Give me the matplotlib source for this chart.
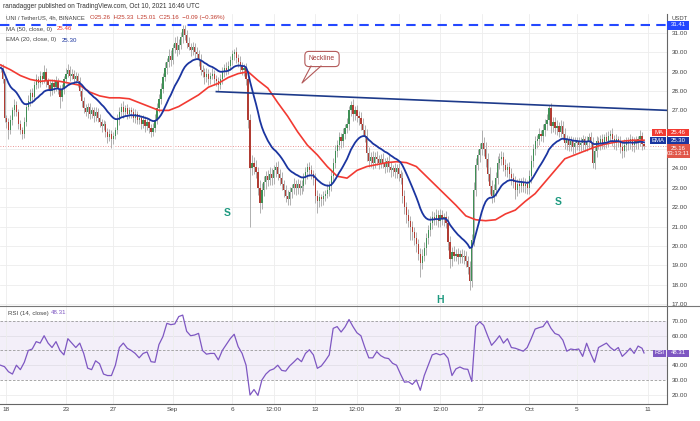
import numpy as np
import pandas as pd
import matplotlib
matplotlib.use("Agg")
import matplotlib.pyplot as plt
from matplotlib.patches import Rectangle
from matplotlib.lines import Line2D

plt.rcParams['font.family'] = ['Liberation Sans', 'DejaVu Sans']

# UNI/USDT 4h candles, first candle Aug 17 12:00 UTC
start = pd.Timestamp('2021-08-17 12:00')
first_open = 29.25
closes = [
    29.2, 28.6, 26.6, 26.4, 26.0, 26.5, 27.0, 27.3, 26.9, 26.3,
    26.0, 25.8, 26.4, 27.2, 27.5, 27.9, 27.7, 28.3, 28.6, 28.4,
    28.8, 28.6, 29.0, 28.5, 28.3, 28.0, 28.4, 28.2, 28.5, 28.1,
    27.7, 28.1, 28.6, 28.9, 29.1, 28.8, 28.9, 28.6, 28.8, 28.5,
    28.0, 27.5, 27.1, 26.9, 27.2, 26.8, 27.0, 26.7, 26.9, 26.6,
    26.4, 26.2, 26.3, 25.9, 25.6, 25.8, 25.5, 25.7, 26.0, 26.5,
    26.9, 27.2, 26.9, 27.1, 26.8, 27.0, 26.9, 26.6, 26.8, 26.5,
    26.6, 26.3, 26.5, 26.2, 26.4, 26.1, 25.9, 26.1, 26.5, 27.1,
    27.6, 28.1, 28.7, 29.2, 29.5, 29.8, 29.6, 30.2, 30.5, 30.1,
    30.4, 30.8, 31.2, 30.9, 30.5, 30.3, 30.1, 30.3, 30.0, 29.9,
    29.6, 29.1, 29.0, 28.7, 28.9, 28.6, 28.8, 28.9, 28.6, 28.5,
    28.3, 28.6, 29.0, 29.2, 29.1, 29.3, 29.6, 29.9, 30.0, 29.7,
    29.5, 29.3, 29.1, 29.2, 28.6, 26.5, 24.0, 24.3, 24.1, 23.8,
    23.0, 22.2, 22.9, 23.3, 23.6, 23.4, 23.7, 23.5, 23.9, 24.1,
    23.7, 23.5, 23.2, 22.9, 22.6, 22.4, 22.8, 23.0, 23.2, 23.0,
    23.2, 23.0, 23.1, 23.5, 23.8, 24.1, 23.9, 23.7, 23.5, 22.6,
    22.3, 22.5, 22.4, 22.6, 22.7, 22.9, 23.1, 23.6, 24.3, 24.9,
    25.2, 25.6, 25.4, 25.8, 26.1, 26.3, 27.0, 27.3, 26.8, 27.0,
    26.7, 26.6, 26.3, 26.0, 25.7, 24.8, 24.4, 24.6, 24.3, 24.6,
    24.5, 24.3, 24.5, 24.3, 24.1, 24.4, 24.1, 23.9, 24.0, 23.8,
    24.0, 23.7, 23.5, 22.6, 22.0, 21.6, 21.3, 21.0, 20.7, 20.4,
    20.1, 19.6, 19.1, 19.5, 19.9, 20.4, 20.8, 21.2, 21.5, 21.4,
    21.6, 21.3, 21.6, 21.4, 21.5, 21.2, 20.2, 19.3, 19.7, 19.5,
    19.6, 19.4, 19.6, 19.4, 19.5, 19.2, 18.9, 18.2, 20.3, 22.9,
    24.2, 24.7, 25.0, 25.3, 25.0, 24.5, 23.7, 23.1, 22.6, 22.9,
    23.5, 24.3, 24.5, 24.6, 24.2, 23.9, 24.1, 23.7, 23.5, 23.3,
    22.9, 23.2, 23.1, 23.3, 23.1, 23.2, 23.0, 23.6, 24.4, 25.0,
    25.4, 25.5, 25.8, 25.7, 26.0, 26.3, 26.5, 27.1, 26.2, 26.4,
    26.1, 26.2, 25.9, 26.2, 25.8, 25.3, 25.5, 25.2, 25.4, 25.1,
    25.3, 25.4, 25.2, 25.3, 25.5, 25.2, 25.4, 25.6, 25.3, 24.3,
    24.9, 25.4, 25.3, 25.5, 25.3, 25.6, 25.4, 25.7, 25.8, 25.5,
    25.3, 25.5, 25.4, 25.1, 24.9, 25.2, 25.4, 25.3, 25.5, 25.2,
    25.4, 25.3, 25.5, 25.7, 25.26, 25.16,
]
upper_wick = [
    .15, .2, .2, .15, .2, .25, .2, .3, .2, .15,
    .2, .15, .25, .2, .3, .2, .25, .2, .3, .2,
    .25, .2, .35, .2, .15, .25, .2, .2, .3, .15,
    .2, .25, .2, .3, .3, .2, .25, .2, .2, .15,
    .2, .15, .2, .25, .2, .2, .15, .2, .25, .2,
    .2, .15, .2, .15, .2, .25, .2, .2, .15, .3,
    .25, .2, .3, .2, .25, .15, .2, .2, .25, .15,
    .2, .15, .25, .2, .2, .15, .2, .25, .3, .3,
    .25, .3, .25, .3, .2, .35, .3, .25, .3, .35,
    .3, .25, .21, .2, .25, .3, .2, .25, .2, .3,
    .2, .3, .25, .2, .3, .25, .2, .3, .2, .25,
    .2, .3, .25, .2, .3, .25, .2, .2, .15, .25,
    .2, .3, .2, .2, .25, .3, .3, .4, .3, .35,
    .3, .4, .35, .3, .25, .3, .35, .3, .3, .25,
    .3, .25, .3, .2, .25, .3, .25, .2, .3, .2,
    .25, .2, .3, .25, .3, .2, .25, .3, .2, .25,
    .3, .25, .2, .25, .2, .3, .25, .3, .25, .3,
    .25, .3, .25, .3, .2, .3, .25, .2, .3, .25,
    .3, .25, .3, .3, .25, .35, .3, .25, .3, .25,
    .3, .2, .25, .3, .25, .2, .3, .25, .2, .3,
    .25, .3, .2, .3, .3, .25, .3, .25, .3, .25,
    .3, .25, .3, .35, .3, .25, .3, .35, .3, .25,
    .3, .25, .3, .25, .2, .3, .35, .3, .25, .3,
    .25, .3, .2, .25, .3, .25, .3, .3, .3, .4,
    .35, .3, .3, .7, .3, .35, .3, .35, .3, .3,
    .3, .35, .3, .3, .25, .3, .2, .25, .3, .25,
    .3, .25, .3, .2, .25, .3, .2, .3, .3, .25,
    .3, .25, .3, .2, .3, .25, .3, .2, .3, .25,
    .25, .3, .2, .3, .25, .3, .25, .2, .3, .25,
    .3, .25, .2, .3, .25, .2, .3, .25, .3, .3,
    .25, .3, .2, .25, .3, .2, .3, .25, .2, .3,
    .25, .3, .2, .3, .25, .3, .2, .25, .3, .2,
    .25, .3, .2, .3, .2, .07,
]
lower_wick = [
    .2, .2, .2, .3, .5, .2, .25, .3, .2, .25,
    .2, .3, .25, .2, .2, .25, .3, .2, .2, .25,
    .2, .25, .2, .3, .2, .25, .2, .3, .2, .25,
    .6, .2, .25, .2, .2, .3, .2, .25, .2, .3,
    .25, .3, .25, .2, .3, .25, .2, .3, .25, .2,
    .25, .3, .2, .25, .3, .2, .45, .25, .2, .2,
    .25, .2, .3, .2, .25, .2, .3, .2, .25, .2,
    .2, .25, .2, .3, .2, .25, .3, .2, .2, .2,
    .2, .25, .2, .2, .3, .25, .3, .2, .25, .3,
    .2, .25, .3, .25, .3, .2, .3, .25, .3, .25,
    .3, .25, .3, .35, .25, .3, .25, .2, .3, .25,
    .3, .2, .25, .3, .25, .2, .2, .25, .3, .25,
    .25, .3, .25, .3, .3, .4, 3.0, .35, .4, .3,
    .35, .5, .3, .3, .35, .3, .25, .35, .3, .35,
    .3, .35, .3, .4, .35, .3, .3, .35, .3, .35,
    .3, .35, .3, .25, .3, .35, .3, .25, .35, .4,
    .6, .3, .35, .3, .3, .25, .3, .25, .3, .3,
    .3, .25, .35, .3, .3, .25, .3, .3, .35, .3,
    .3, .35, .3, .3, .35, .4, .35, .3, .35, .3,
    .3, .35, .3, .3, .35, .3, .3, .35, .3, .3,
    .3, .35, .3, .4, .35, .4, .35, .7, .4, .35,
    .4, .35, .7, .3, .3, .35, .3, .3, .35, .3,
    .3, .35, .3, .3, .35, .3, .4, .45, .35, .3,
    .3, .35, .3, .3, .35, .3, .35, .5, .3, .3,
    .3, .3, .35, .3, .35, .4, .35, .4, .4, .35,
    .3, .3, .35, .3, .35, .3, .35, .3, .35, .3,
    .5, .3, .35, .3, .3, .35, .3, .3, .35, .3,
    .3, .35, .3, .3, .35, .3, .3, .25, .35, .3,
    .3, .35, .3, .3, .35, .3, .35, .3, .3, .35,
    .3, .35, .3, .3, .35, .3, .3, .35, .3, .3,
    .35, .3, .3, .35, .3, .3, .35, .3, .3, .35,
    .3, .35, .3, .3, .35, .3, .3, .35, .3, .3,
    .35, .3, .3, .35, .3, .15,
]
# MA(50) read every 5 candles, plus the last candle
ma50_step = 5
ma50 = [
    29.35, 29.1, 28.8, 28.6, 28.5, 28.55, 28.5, 28.4, 28.3, 27.95,
    27.75, 27.65, 27.65, 27.6, 27.4, 27.2, 27.0, 27.0, 27.2, 27.5,
    27.8, 28.2, 28.4, 28.7, 28.9, 29.0, 28.55, 28.15, 27.4, 26.7,
    25.9, 25.2, 24.7, 24.1, 23.6, 23.5, 23.9, 24.1, 24.2, 24.3,
    24.35, 24.3, 24.1, 23.6, 23.1, 22.6, 22.1, 21.55, 21.35, 21.3,
    21.35, 21.65, 21.85, 22.3, 22.7, 23.3, 23.9, 24.5, 24.7, 24.9,
    25.1, 25.25, 25.35, 25.42, 25.46, 25.46,
]
# RSI(14) read every 2 candles, plus the last candle
rsi_step = 2
rsi14 = [
    40, 39, 35.6, 34, 40, 37, 42, 50, 51, 56,
    55, 60, 55, 52, 56, 50, 47, 58, 55, 52,
    55, 48, 38, 37, 43, 41, 34, 33, 33, 40,
    52, 55, 51.5, 50, 48, 45, 48, 49, 42.4, 42,
    54, 59.4, 68.4, 67.5, 68, 73, 74, 63, 60, 60.5,
    61.6, 50, 47.5, 48, 48, 43.6, 50, 54, 58, 61,
    52.6, 48, 40, 19.8, 23.5, 19.5, 30, 34, 36.5, 37.5,
    40, 36.5, 36, 39.5, 42, 44.7, 42.4, 48, 50.5, 47,
    37.9, 39.5, 43, 47, 65, 66.2, 62.5, 66, 71, 66.2,
    62, 60, 52, 45, 45, 49.2, 46.5, 45, 44.5, 41.3,
    40, 34, 28.5, 28.8, 27, 30, 23, 33, 40, 47,
    48, 47, 48, 44.7, 33, 37.5, 38.8, 37.5, 37.2, 29,
    66.5, 69.5, 67, 60, 53.5, 56.5, 60, 55, 58, 52,
    51.5, 50.5, 49.5, 52, 58, 64.5, 65.5, 66.2, 70, 65,
    61.5, 60.5, 57, 49.5, 51, 50.5, 51, 46, 54.9, 48,
    42, 52, 53.5, 55, 52, 50, 52, 46, 48.5, 51.5,
    48, 53, 51.5, 48.31,
]
resistance = 31.41
neck_times = ['2021-09-04 16:00', '2021-10-13 02:00']
neck_prices = [27.97, 26.99]
tick_times = ['2021-08-18', '2021-08-23', '2021-08-27', '2021-09-01', '2021-09-06',
              '2021-09-09 12:00', '2021-09-13', '2021-09-16 12:00', '2021-09-20',
              '2021-09-23 12:00', '2021-09-27', '2021-10-01', '2021-10-05', '2021-10-11']
tick_labels = ['18', '23', '27', 'Sep', '6', '12:00', '13', '12:00', '20', '12:00',
               '27', 'Oct', '5', '11']
price_ticks = [17, 18, 19, 20, 21, 22, 23, 24, 27, 28, 29, 30, 31]
rsi_ticks = [20, 30, 40, 60, 70]

UP, DOWN, WICK = '#3f8f55', '#b13c33', '#a4a4a4'
MA_C, EMA_C, RSI_C = '#f23a32', '#1b35a0', '#7e57c2'

c = pd.Series(closes)
o = c.shift(1).fillna(first_open)
hi = np.maximum(o, c) + np.array(upper_wick)
lo = np.minimum(o, c) - np.array(lower_wick)
k = np.arange(len(c))
ema20 = c.ewm(span=20, adjust=False).mean()
last = len(c) - 1


def pos(t):
    return (pd.Timestamp(t) - start) / pd.Timedelta(hours=4)


W, H = 700, 421
fig = plt.figure(figsize=(7, 4.21), dpi=100)


def fy(py):
    return 1 - py / H


ax = fig.add_axes([0, fy(305.5), 667 / W, (305.5 - 14) / H])
rax = fig.add_axes([0, fy(404), 667 / W, (404 - 305.5) / H], sharex=ax)

# candles
ax.vlines(k, lo, hi, color=WICK, lw=0.6, zorder=2)
cols = [UP if cc >= oo else DOWN for oo, cc in zip(o, c)]
ax.bar(k, np.maximum(np.abs(c - o), 0.04), bottom=np.minimum(o, c), width=0.62,
       color=cols, lw=0, zorder=3)
ma_x = np.r_[np.arange(0, last, ma50_step), last]
ax.plot(ma_x, ma50, color=MA_C, lw=1.2, zorder=4)
ax.plot(k, ema20, color=EMA_C, lw=1.3, zorder=5)
ax.axhline(resistance, color='#2448ff', lw=1.5, dashes=(4.5, 3), zorder=4)
ax.axhline(closes[-1], color='#e57373', lw=0.6, ls=(0, (1, 2)), zorder=1)
ax.plot([pos(t) for t in neck_times], neck_prices, color='#1d3a8a', lw=1.2, zorder=6)

ax.set_ylim(16.92, 31.98)
ax.set_xlim(-0.28, 336.6)
ax.set_yticks(price_ticks)
ax.yaxis.set_major_formatter(matplotlib.ticker.FormatStrFormatter('%.2f'))
ax.yaxis.tick_right()
ax.tick_params(axis='y', length=0, pad=3.5, labelsize=4.6, colors='#444')
ax.tick_params(axis='x', length=0, labelbottom=False)
ax.set_xticks([pos(t) for t in tick_times])
ax.grid(axis='x', color='#ededed', lw=0.6, zorder=0)
for p in range(17, 32):
    ax.axhline(p, color='#ededed', lw=0.6, zorder=0)
for s in ['top', 'left', 'bottom']:
    ax.spines[s].set_visible(False)
ax.spines['right'].set_color('#666')
ax.spines['right'].set_linewidth(0.8)

# RSI pane
rax.axhspan(30, 70, color=RSI_C, alpha=0.09, lw=0)
for lvl in (30, 50, 70):
    rax.axhline(lvl, color='#9a9a9a', lw=0.6, ls=(0, (3, 2)))
for lvl in (20, 40, 60):
    rax.axhline(lvl, color='#ededed', lw=0.6, zorder=0)
rsi_x = np.r_[np.arange(0, last, rsi_step), last]
rax.plot(rsi_x, rsi14, color=RSI_C, lw=0.9)
rax.set_ylim(13.7, 80.5)
rax.set_yticks(rsi_ticks)
rax.yaxis.set_major_formatter(matplotlib.ticker.FormatStrFormatter('%.2f'))
rax.yaxis.tick_right()
rax.tick_params(axis='y', length=0, pad=3.5, labelsize=4.6, colors='#444')
rax.set_xticks([pos(t) for t in tick_times])
rax.set_xticklabels(tick_labels)
rax.tick_params(axis='x', length=0, pad=2.5, labelsize=4.6, colors='#444')
rax.grid(axis='x', color='#ededed', lw=0.6, zorder=0)
rax.set_xlim(-0.28, 336.6)
for s in ['top', 'left']:
    rax.spines[s].set_visible(False)
for s in ['right', 'bottom']:
    rax.spines[s].set_color('#666')
    rax.spines[s].set_linewidth(0.8)
fig.add_artist(Line2D([0, 1], [fy(305.5)] * 2, color='#777', lw=0.8))

# header texts
fig.text(3 / W, fy(6), 'ranadagger published on TradingView.com, Oct 10, 2021 16:46 UTC',
         fontsize=4.7, color='#333', va='center')
fig.text(6 / W, fy(18), 'UNI / TetherUS, 4h, BINANCE', fontsize=4.2, color='#444', va='center')
fig.text(90 / W, fy(18), 'O25.26  H25.33  L25.01  C25.16  \u22120.09 (\u22120.36%)',
         fontsize=4.4, color='#c0392b', va='center')
fig.text(6 / W, fy(29), 'MA (50, close, 0)', fontsize=4.4, color='#444', va='center')
fig.text(57 / W, fy(29), '25.46', fontsize=4.4, color=MA_C, va='center')
fig.text(6 / W, fy(40), 'EMA (20, close, 0)', fontsize=4.4, color='#444', va='center')
fig.text(62 / W, fy(40), '25.30', fontsize=4.4, color=EMA_C, va='center')
fig.text(8 / W, fy(313), 'RSI (14, close)', fontsize=4.4, color='#444', va='center')
fig.text(51 / W, fy(313), '48.31', fontsize=4.4, color=RSI_C, va='center')
fig.text(672 / W, fy(18.5), 'USDT', fontsize=4.2, color='#444', va='center')


def tag(x0, x1, y0, y1, color, text):
    fig.add_artist(Rectangle((x0 / W, fy(y1)), (x1 - x0) / W, (y1 - y0) / H,
                             transform=fig.transFigure, color=color, lw=0, zorder=8))
    fig.text((x0 + x1) / 2 / W, fy((y0 + y1) / 2), text, fontsize=4.3, color='white',
             ha='center', va='center', zorder=9, linespacing=1.0)


tag(667, 689, 20.5, 29.5, '#2448ff', '31.41')
tag(652, 666, 128.5, 135.5, MA_C, 'MA')
tag(667, 689, 128.5, 135.5, MA_C, '25.46')
tag(650, 666, 136.5, 143.5, EMA_C, 'EMA')
tag(667, 689, 136.5, 143.5, EMA_C, '25.30')
tag(667, 690, 144, 157.5, '#e0574a', '25.16\n03:13:11')
tag(653, 666, 349.5, 356.5, RSI_C, 'RSI')
tag(667, 689, 349.5, 356.5, RSI_C, '48.31')

# pattern labels and neckline callout
for x, y, s in [(227, 213, 'S'), (440, 300, 'H'), (558, 202, 'S')]:
    fig.text(x / W, fy(y), s, fontsize=7.5, fontweight='bold', color='#1f9a80',
             ha='center', va='center', zorder=7)
fig.text(322 / W, fy(59), 'Neckline', fontsize=4.9, color='#a33a3a', ha='center', va='center',
         zorder=9, bbox=dict(boxstyle='round,pad=0.6', fc='white', ec='#b35a5a', lw=0.8))
fig.add_artist(Line2D([311 / W, 302 / W, 321 / W], [fy(66), fy(83), fy(66)],
                      color='#b35a5a', lw=0.8, zorder=10))

fig.savefig('out.png', dpi=100)
